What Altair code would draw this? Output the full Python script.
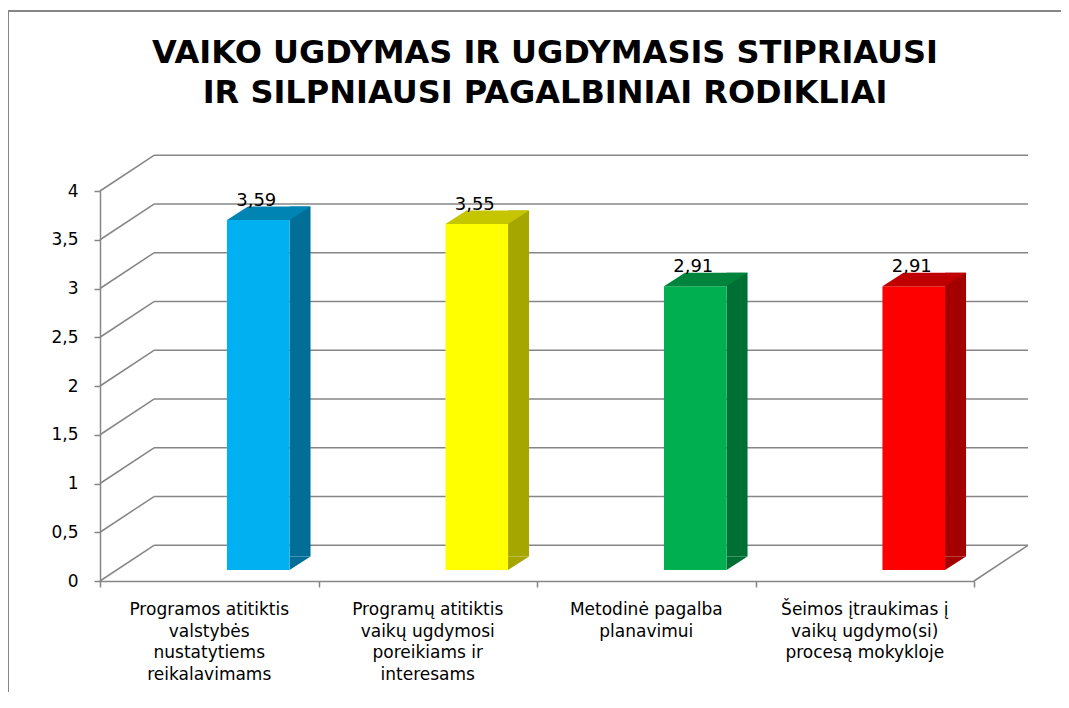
import altair as alt
import pandas as pd

# ---- data ----
categories = [
    "Programos atitiktis\nvalstybės\nnustatytiems\nreikalavimams",
    "Programų atitiktis\nvaikų ugdymosi\nporeikiams ir\ninteresams",
    "Metodinė pagalba\nplanavimui",
    "Šeimos įtraukimas į\nvaikų ugdymo(si)\nprocesą mokykloje",
]
values = [3.59, 3.55, 2.91, 2.91]
front_colors = ["#00B0F0", "#FFFF00", "#00B050", "#FF0000"]
side_colors = ["#006E96", "#A6A600", "#006F33", "#A40000"]
top_colors = ["#0084B4", "#C6C600", "#00843C", "#C00000"]
y_ticks = [0, 0.5, 1, 1.5, 2, 2.5, 3, 3.5, 4]
title_lines = ["VAIKO UGDYMAS IR UGDYMASIS STIPRIAUSI",
               "IR SILPNIAUSI PAGALBINIAI  RODIKLIAI"]

# ---- style constants (pixels) ----
W, H = 874, 390
GRAY = "#868686"
BAR_DX, BAR_DY = 49, -11        # bar front face shift from the front plane
HALF = 31.3                      # half width of the bar front face
DEP_X, DEP_Y = 21, 13.5          # 3D depth of a bar
WALL_DX, WALL_DY = 54, -35.7     # back wall shift
FONT = "DejaVu Sans"

n = len(categories)
bars = pd.DataFrame({
    "pos": [i + 0.5 for i in range(n)],
    "value": values,
    "base": [0] * n,
    "category": categories,
    "front": front_colors,
    "side": side_colors,
    "top": top_colors,
})
grid = pd.DataFrame({"t": y_ticks, "xs": [0] * len(y_ticks), "xe": [n] * len(y_ticks)})
diag = pd.DataFrame({"t": y_ticks + [0], "xs": [0] * len(y_ticks) + [n]})
bounds = pd.DataFrame({"b": list(range(n + 1)), "base": [0] * (n + 1)})
title_df = pd.DataFrame({"title": ["\n".join(title_lines)]})

xs = alt.Scale(domain=[0, n], nice=False, zero=False)
ys = alt.Scale(domain=[0, 4], nice=False)

# back wall gridlines
wall = alt.Chart(grid).mark_rule(
    color=GRAY, strokeWidth=1.5, xOffset=WALL_DX, x2Offset=WALL_DX, yOffset=WALL_DY
).encode(
    x=alt.X("xs:Q", scale=xs, axis=None),
    x2="xe:Q",
    y=alt.Y("t:Q", scale=ys, axis=None),
)

# diagonals from front axis to the back wall
diags = alt.Chart(diag).mark_rule(
    color=GRAY, strokeWidth=1.5, x2Offset=WALL_DX, y2Offset=WALL_DY
).encode(
    x=alt.X("xs:Q", scale=xs, axis=None),
    x2="xs:Q",
    y=alt.Y("t:Q", scale=ys, axis=None),
    y2="t:Q",
)

# front axes (drawn from the category boundaries)
axes = alt.Chart(bounds).mark_tick(opacity=0).encode(
    x=alt.X("b:Q", scale=xs, title=None,
            axis=alt.Axis(values=list(range(n + 1)), labels=False, tickSize=6,
                          tickColor=GRAY, domainColor=GRAY, domainWidth=1.5,
                          tickWidth=1.5, grid=False)),
    y=alt.Y("base:Q", scale=ys, title=None,
            axis=alt.Axis(values=y_ticks, tickSize=6, tickColor=GRAY, tickWidth=1.5,
                          domainColor=GRAY, domainWidth=1.5, grid=False,
                          labelExpr="replace(toString(datum.value), '.', ',')",
                          labelFont=FONT, labelFontSize=17, labelColor="#000000",
                          labelPadding=16)),
)

enc_base = dict(
    x=alt.X("pos:Q", scale=xs, axis=None),
    x2="pos:Q",
)

side = alt.Chart(bars).mark_rect(
    xOffset=BAR_DX + HALF, x2Offset=BAR_DX + HALF + DEP_X,
    yOffset=BAR_DY - DEP_Y, y2Offset=BAR_DY - DEP_Y,
).encode(
    y=alt.Y("value:Q", scale=ys, axis=None), y2="base:Q",
    color=alt.Color("side:N", scale=None), **enc_base
)

tri_path = f"M0,0L0,{-DEP_Y}L{DEP_X},{-DEP_Y}Z"
side_bottom = alt.Chart(bars).mark_point(
    shape=tri_path, size=4, filled=True, opacity=1, strokeWidth=0,
    xOffset=BAR_DX + HALF, yOffset=BAR_DY,
).encode(
    x=alt.X("pos:Q", scale=xs, axis=None),
    y=alt.Y("base:Q", scale=ys, axis=None),
    color=alt.Color("side:N", scale=None),
)

front = alt.Chart(bars).mark_rect(
    xOffset=BAR_DX - HALF, x2Offset=BAR_DX + HALF,
    yOffset=BAR_DY, y2Offset=BAR_DY,
).encode(
    y=alt.Y("value:Q", scale=ys, axis=None), y2="base:Q",
    color=alt.Color("front:N", scale=None), **enc_base
)

top_path = f"M0,0L{2 * HALF},0L{2 * HALF + DEP_X},{-DEP_Y}L{DEP_X},{-DEP_Y}Z"
top = alt.Chart(bars).mark_point(
    shape=top_path, size=4, filled=True, opacity=1, strokeWidth=0,
    xOffset=BAR_DX - HALF, yOffset=BAR_DY,
).encode(
    x=alt.X("pos:Q", scale=xs, axis=None),
    y=alt.Y("value:Q", scale=ys, axis=None),
    color=alt.Color("top:N", scale=None),
)

labels = alt.Chart(bars).transform_calculate(
    lbl="replace(format(datum.value, '.2f'), '.', ',')"
).mark_text(
    font=FONT, fontSize=18, color="#000000", align="center", baseline="alphabetic",
    dx=BAR_DX - 2, dy=-25,
).encode(
    x=alt.X("pos:Q", scale=xs, axis=None),
    y=alt.Y("value:Q", scale=ys, axis=None),
    text="lbl:N",
)

cat_labels = alt.Chart(bars).mark_text(
    font=FONT, fontSize=17, color="#000000", align="center", baseline="top",
    lineBreak="\n", lineHeight=21.7, dy=21,
).encode(
    x=alt.X("pos:Q", scale=xs, axis=None),
    y=alt.Y("base:Q", scale=ys, axis=None),
    text="category:N",
)

title = alt.Chart(title_df).mark_text(
    font=FONT, fontSize=32, fontWeight="bold", color="#000000", align="center",
    baseline="alphabetic", lineBreak="\n", lineHeight=40,
).encode(
    x=alt.value(W / 2 + 8), y=alt.value(-128.5), text="title:N",
)

one = pd.DataFrame({"k": [0]})
border_left = alt.Chart(one).mark_rule(color=GRAY, strokeWidth=2).encode(
    x=alt.value(-92), y=alt.value(-180), y2=alt.value(H + 120))
border_top = alt.Chart(one).mark_rule(color=GRAY, strokeWidth=2).encode(
    y=alt.value(-180), x=alt.value(-92), x2=alt.value(W + 100))

chart = alt.layer(
    border_left, border_top, wall, diags, axes, side, side_bottom, front, top,
    labels, cat_labels, title,
).resolve_axis(
    x="independent", y="independent"
).properties(
    width=W, height=H,
    padding={"left": 92, "top": 183, "right": 87, "bottom": 111},
    autosize=alt.AutoSizeParams(type="none"),
).configure_view(strokeWidth=0)

chart.save("out.html", embed_options={"renderer": "svg", "actions": False})
